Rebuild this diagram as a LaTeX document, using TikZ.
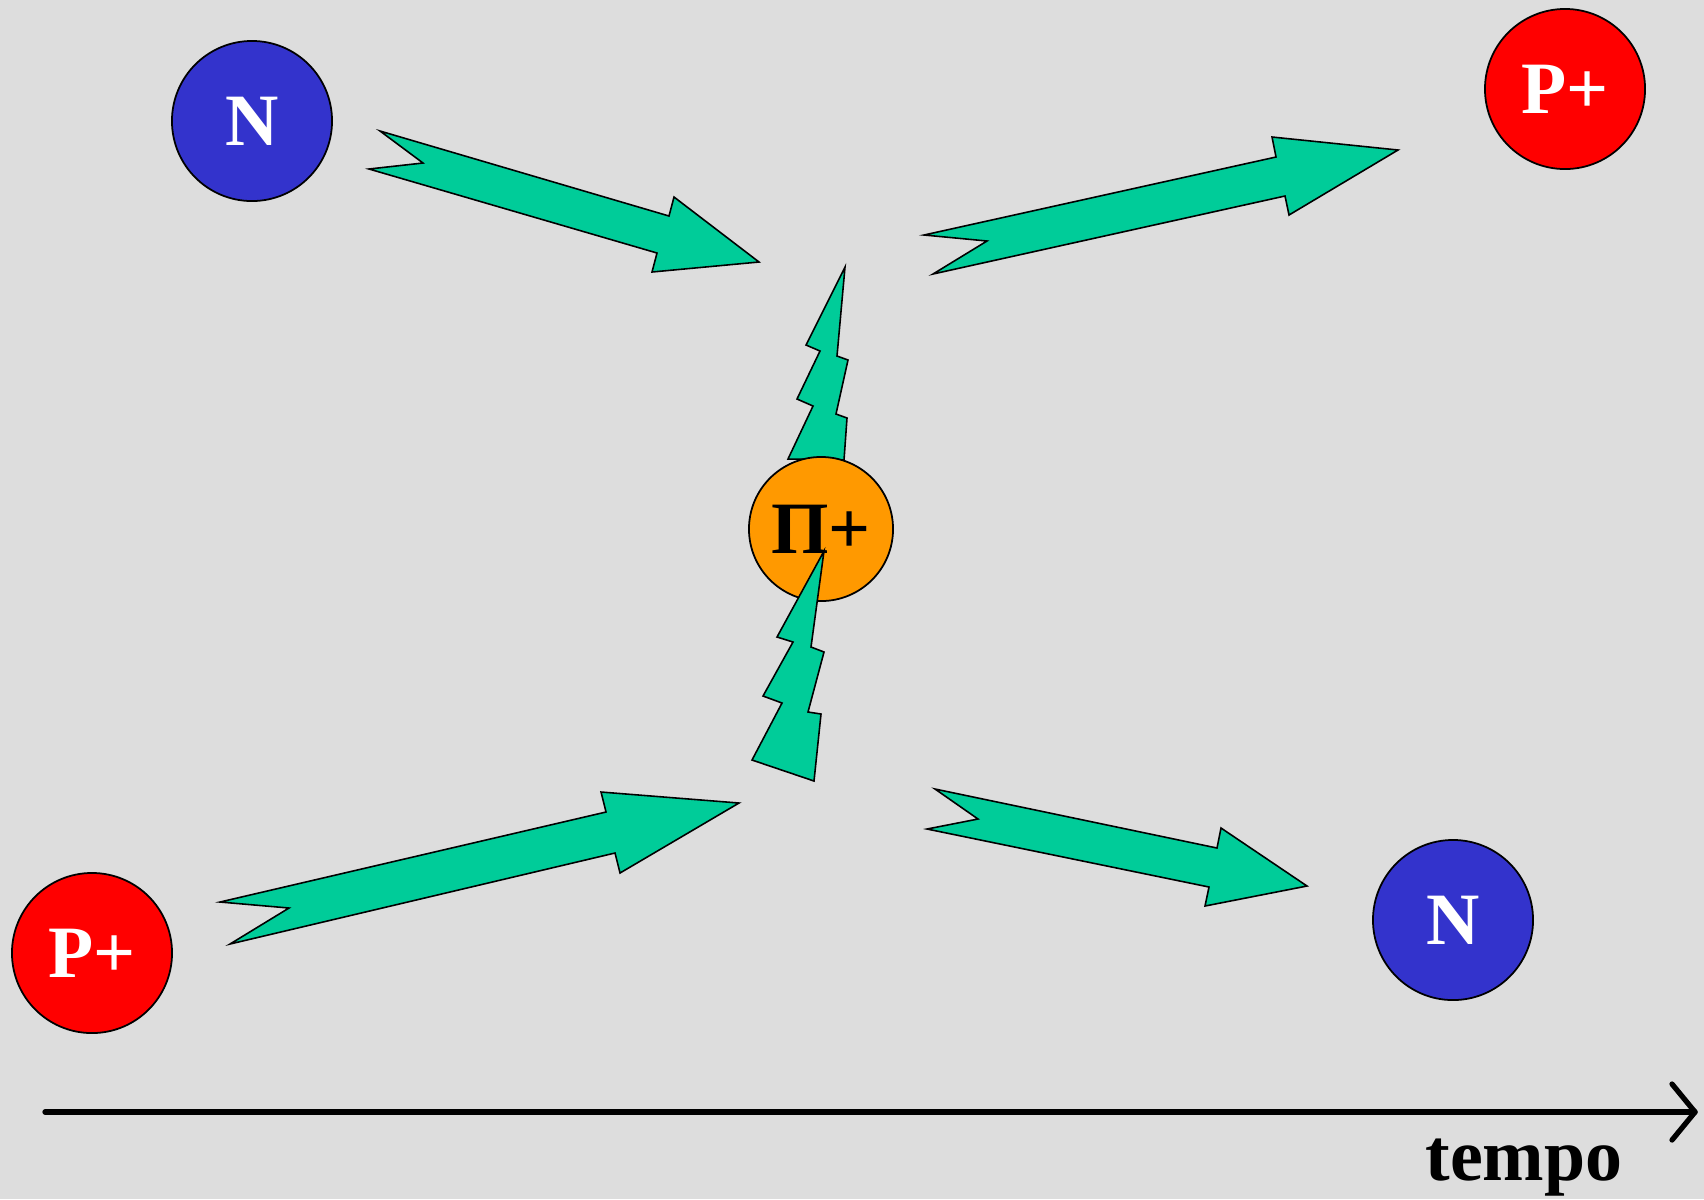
\documentclass[tikz,border=0pt]{standalone}
\usepackage{fontspec}
\setmainfont{Liberation Serif}
\definecolor{bgcolor}{HTML}{DDDDDD}
\definecolor{neutroncolor}{HTML}{3333CC}
\definecolor{protoncolor}{HTML}{FF0000}
\definecolor{pioncolor}{HTML}{FF9900}
\definecolor{flowcolor}{HTML}{00CC99}
\tikzset{
  particle/.style={
    circle,
    draw=black,
    line width=0.5pt,
    inner sep=0pt,
    minimum size=1.6cm,
    font=\bfseries\fontsize{21}{21}\selectfont,
    text=white
  },
  neutron/.style={particle, fill=neutroncolor},
  proton/.style={particle, fill=protoncolor},
  pion/.style={particle, fill=pioncolor, text=black, minimum size=1.44cm},
  flow/.style={fill=flowcolor, draw=black, line width=0.45pt, line join=miter},
  axis/.style={draw=black, line width=1.5pt, line cap=round, line join=round},
  axislabel/.style={font=\bfseries\fontsize{21}{21}\selectfont, anchor=base, inner sep=0pt}
}

\begin{document}
\begin{tikzpicture}[x=0.01cm,y=-0.01cm]
  \useasboundingbox (0,0) rectangle (1704,1199);
  \fill[bgcolor] (0,0) rectangle (1704,1199);

  % Particles before and after the exchange.
  \node[neutron] (nin) at (252,121) {N};
  \node[proton] (pout) at (1565,89) {P+};
  \node[proton] (pin) at (92,953) {P+};
  \node[neutron] (nout) at (1453,920) {N};

  % Block arrows.
  \draw[flow] (380,131) -- (669,216) -- (674,197) -- (759,262) -- (652,272)
    -- (657,253) -- (369,169) -- (423,163) -- cycle;
  \draw[flow] (924,235) -- (1276,157) -- (1272,137) -- (1398,150) -- (1289,215)
    -- (1285,196) -- (933,274) -- (987,241) -- cycle;
  \draw[flow] (220,902) -- (606,812) -- (601,792) -- (739,803) -- (620,873)
    -- (615,853) -- (230,944) -- (289,908) -- cycle;
  \draw[flow] (935,789) -- (1217,848) -- (1221,828) -- (1307,886) -- (1205,906)
    -- (1209,887) -- (927,829) -- (978,819) -- cycle;

  % Pion exchange.
  \draw[flow] (845,267) -- (837,356) -- (848,360) -- (836,414) -- (847,418)
    -- (844,460) -- (788,459) -- (813,406) -- (797,399) -- (820,351)
    -- (806,345) -- cycle;
  \node[pion] (pion) at (821,529) {Π+};
  \draw[flow] (824,551) -- (811,647) -- (824,652) -- (808,712) -- (821,714)
    -- (814,781) -- (752,760) -- (782,703) -- (763,696) -- (793,642)
    -- (777,637) -- cycle;

  % Time axis.
  \coordinate (tstart) at (45,1112);
  \coordinate (tend) at (1695,1112);
  \draw[axis] (tstart) -- (tend);
  \draw[axis] ([shift={(-23,-28)}]tend) -- (tend) -- ([shift={(-23,28)}]tend);
  \node[axislabel] (tempo) at (1524,1180) {tempo};

\end{tikzpicture}
\end{document}
